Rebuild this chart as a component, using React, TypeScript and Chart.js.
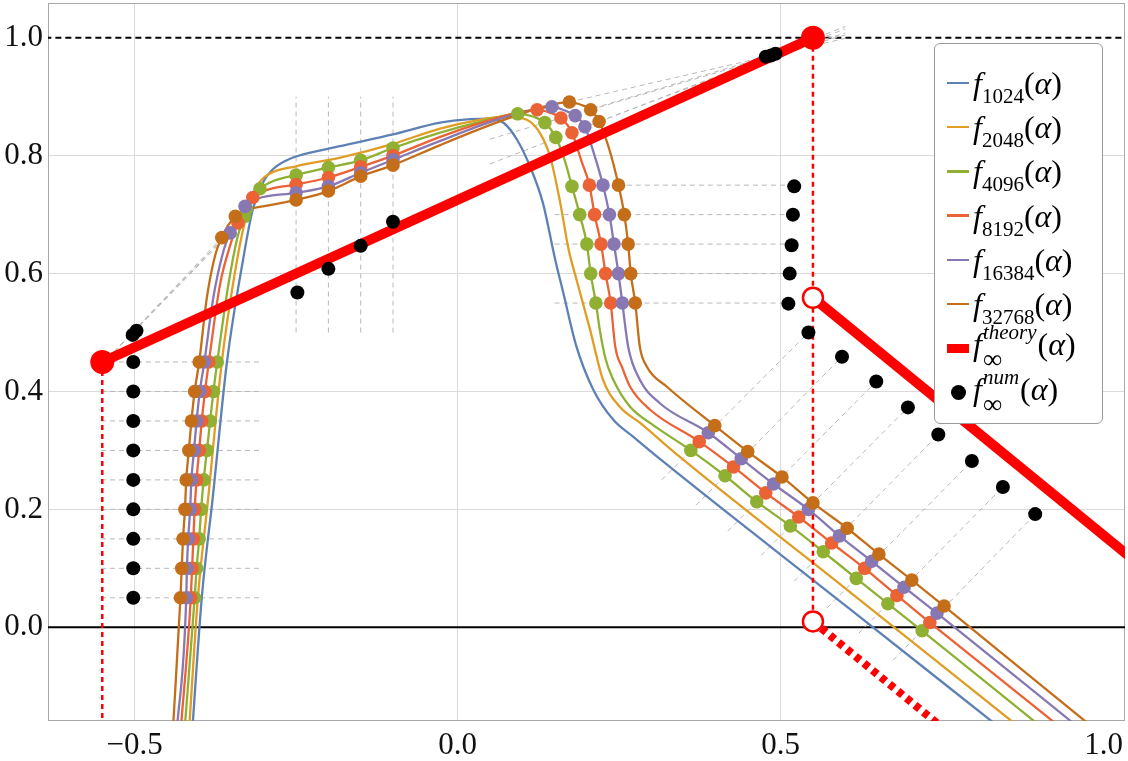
import React, { useEffect, useRef } from 'react';
import { Chart, registerables } from 'chart.js';

Chart.register(...registerables);

type P = [number, number];

// ---------- axes ----------
const xRange: P = [-0.634, 1.033];
const yRange: P = [-0.159, 1.059];
const xTicks = [-0.5, 0, 0.5, 1.0];
const yTicks = [0, 0.2, 0.4, 0.6, 0.8, 1.0];
const xGridValues = [-0.5, 0, 0.5];

// ---------- finite-size curves f_N(alpha) ----------
const curve1024: P[] = [
  [-0.411, -0.18], [-0.396, 0.05], [-0.379, 0.22], [-0.357, 0.45], [-0.332, 0.624], [-0.317, 0.709],
  [-0.3, 0.757], [-0.286, 0.777], [-0.265, 0.792], [-0.249, 0.799], [-0.182, 0.816], [-0.1, 0.836],
  [-0.027, 0.856], [0.02, 0.862], [0.05, 0.863], [0.072, 0.855], [0.092, 0.827], [0.112, 0.782],
  [0.132, 0.72], [0.151, 0.624], [0.163, 0.57], [0.184, 0.476], [0.21, 0.403], [0.241, 0.352],
  [0.272, 0.323], [0.316, 0.283], [0.6, 0.037], [0.84, -0.171],
];
const curve2048: P[] = [
  [-0.416, -0.18], [-0.402, 0.05], [-0.386, 0.22], [-0.365, 0.45], [-0.345, 0.6], [-0.33, 0.685],
  [-0.318, 0.73], [-0.305, 0.757], [-0.29, 0.77], [-0.25, 0.782], [-0.18, 0.797], [-0.1, 0.82],
  [-0.027, 0.846], [0.03, 0.86], [0.076, 0.866], [0.107, 0.861], [0.127, 0.839], [0.143, 0.799],
  [0.158, 0.725], [0.172, 0.64], [0.184, 0.59], [0.205, 0.505], [0.225, 0.42], [0.251, 0.374],
  [0.282, 0.347], [0.344, 0.289], [0.6, 0.066], [0.87, -0.17],
];
const curve4096: P[] = [
  [-0.423, -0.18], [-0.407, 0.05], [-0.404, 0.1], [-0.4, 0.15], [-0.397, 0.2], [-0.393, 0.25],
  [-0.388, 0.3], [-0.383, 0.35], [-0.378, 0.4], [-0.372, 0.45], [-0.355, 0.58], [-0.34, 0.665],
  [-0.33, 0.697], [-0.327, 0.71], [-0.318, 0.728], [-0.306, 0.744], [-0.285, 0.757], [-0.25, 0.767],
  [-0.2, 0.78], [-0.15, 0.792], [-0.1, 0.813], [-0.027, 0.839], [0.03, 0.856], [0.093, 0.871],
  [0.118, 0.866], [0.135, 0.856], [0.152, 0.831], [0.165, 0.795], [0.177, 0.748], [0.189, 0.7],
  [0.2, 0.65], [0.206, 0.6], [0.214, 0.55], [0.22, 0.505], [0.229, 0.455], [0.241, 0.42],
  [0.267, 0.374], [0.3, 0.345], [0.361, 0.3], [0.414, 0.257], [0.463, 0.213], [0.515, 0.172],
  [0.566, 0.128], [0.617, 0.083], [0.666, 0.04], [0.719, -0.006], [0.9, -0.166],
];
const curve8192: P[] = [
  [-0.429, -0.18], [-0.413, 0.05], [-0.411, 0.1], [-0.409, 0.15], [-0.407, 0.2], [-0.404, 0.25],
  [-0.4, 0.3], [-0.396, 0.35], [-0.391, 0.4], [-0.385, 0.45], [-0.368, 0.58], [-0.35, 0.655],
  [-0.34, 0.686], [-0.328, 0.712], [-0.317, 0.729], [-0.295, 0.742], [-0.25, 0.751], [-0.2, 0.763],
  [-0.15, 0.781], [-0.1, 0.8], [-0.027, 0.832], [0.04, 0.857], [0.09, 0.872], [0.123, 0.878],
  [0.145, 0.872], [0.16, 0.864], [0.177, 0.839], [0.192, 0.79], [0.204, 0.75], [0.212, 0.7],
  [0.222, 0.65], [0.229, 0.6], [0.237, 0.55], [0.244, 0.476], [0.255, 0.44], [0.267, 0.408],
  [0.298, 0.369], [0.374, 0.315], [0.427, 0.272], [0.477, 0.228], [0.528, 0.187], [0.579, 0.143],
  [0.63, 0.1], [0.68, 0.054], [0.731, 0.008], [0.93, -0.167],
];
const curve16384: P[] = [
  [-0.435, -0.18], [-0.42, 0.05], [-0.419, 0.1], [-0.417, 0.15], [-0.414, 0.2], [-0.412, 0.25],
  [-0.408, 0.3], [-0.404, 0.35], [-0.399, 0.4], [-0.392, 0.45], [-0.378, 0.56], [-0.362, 0.64],
  [-0.352, 0.669], [-0.34, 0.695], [-0.329, 0.714], [-0.31, 0.727], [-0.25, 0.737], [-0.2, 0.748],
  [-0.15, 0.771], [-0.1, 0.793], [-0.027, 0.825], [0.05, 0.857], [0.11, 0.876], [0.146, 0.883],
  [0.165, 0.877], [0.182, 0.868], [0.197, 0.849], [0.212, 0.8], [0.225, 0.75], [0.235, 0.7],
  [0.242, 0.65], [0.249, 0.6], [0.255, 0.55], [0.264, 0.476], [0.282, 0.42], [0.313, 0.38],
  [0.388, 0.33], [0.439, 0.286], [0.489, 0.243], [0.543, 0.2], [0.591, 0.155], [0.641, 0.112],
  [0.691, 0.068], [0.742, 0.024], [0.95, -0.16],
];
const curve32768: P[] = [
  [-0.441, -0.18], [-0.429, 0.05], [-0.427, 0.1], [-0.425, 0.15], [-0.422, 0.2], [-0.42, 0.25],
  [-0.416, 0.3], [-0.412, 0.35], [-0.407, 0.4], [-0.4, 0.45], [-0.388, 0.56], [-0.375, 0.632],
  [-0.365, 0.661], [-0.355, 0.682], [-0.344, 0.697], [-0.325, 0.708], [-0.29, 0.716], [-0.25, 0.725],
  [-0.2, 0.74], [-0.15, 0.765], [-0.1, 0.784], [-0.027, 0.818], [0.06, 0.856], [0.13, 0.882],
  [0.173, 0.891], [0.192, 0.886], [0.206, 0.878], [0.219, 0.858], [0.235, 0.81], [0.249, 0.75],
  [0.258, 0.7], [0.264, 0.65], [0.268, 0.6], [0.275, 0.55], [0.282, 0.476], [0.293, 0.442],
  [0.324, 0.408], [0.398, 0.342], [0.449, 0.298], [0.502, 0.255], [0.55, 0.211], [0.603, 0.168],
  [0.652, 0.124], [0.703, 0.08], [0.753, 0.036], [0.98, -0.167],
];

// ---------- sampled points on the curves ----------
const markers4096: P[] = [
  [-0.407, 0.05], [-0.404, 0.1], [-0.4, 0.15], [-0.397, 0.2], [-0.393, 0.25], [-0.388, 0.3], [-0.383, 0.35], [-0.378, 0.4], [-0.372, 0.45],
  [-0.33, 0.697], [-0.327, 0.71], [-0.306, 0.744],
  [-0.25, 0.767], [-0.2, 0.78], [-0.15, 0.792], [-0.1, 0.813],
  [0.093, 0.871], [0.135, 0.856], [0.152, 0.831],
  [0.177, 0.748], [0.189, 0.7], [0.2, 0.65], [0.206, 0.6], [0.214, 0.55],
  [0.361, 0.3], [0.414, 0.257], [0.463, 0.213], [0.515, 0.172], [0.566, 0.128], [0.617, 0.083], [0.666, 0.04], [0.719, -0.006],
];
const markers8192: P[] = [
  [-0.413, 0.05], [-0.411, 0.1], [-0.409, 0.15], [-0.407, 0.2], [-0.404, 0.25], [-0.4, 0.3], [-0.396, 0.35], [-0.391, 0.4], [-0.385, 0.45],
  [-0.34, 0.686], [-0.317, 0.729],
  [-0.25, 0.751], [-0.2, 0.763], [-0.15, 0.781], [-0.1, 0.8],
  [0.123, 0.878], [0.16, 0.864], [0.177, 0.839],
  [0.204, 0.75], [0.212, 0.7], [0.222, 0.65], [0.229, 0.6], [0.237, 0.55],
  [0.374, 0.315], [0.427, 0.272], [0.477, 0.228], [0.528, 0.187], [0.579, 0.143], [0.63, 0.1], [0.68, 0.054], [0.731, 0.008],
];
const markers16384: P[] = [
  [-0.42, 0.05], [-0.419, 0.1], [-0.417, 0.15], [-0.414, 0.2], [-0.412, 0.25], [-0.408, 0.3], [-0.404, 0.35], [-0.399, 0.4], [-0.392, 0.45],
  [-0.352, 0.669], [-0.329, 0.714],
  [-0.25, 0.737], [-0.2, 0.748], [-0.15, 0.771], [-0.1, 0.793],
  [0.146, 0.883], [0.182, 0.868], [0.197, 0.849],
  [0.225, 0.75], [0.235, 0.7], [0.242, 0.65], [0.249, 0.6], [0.255, 0.55],
  [0.388, 0.33], [0.439, 0.286], [0.489, 0.243], [0.543, 0.2], [0.591, 0.155], [0.641, 0.112], [0.691, 0.068], [0.742, 0.024],
];
const markers32768: P[] = [
  [-0.429, 0.05], [-0.427, 0.1], [-0.425, 0.15], [-0.422, 0.2], [-0.42, 0.25], [-0.416, 0.3], [-0.412, 0.35], [-0.407, 0.4], [-0.4, 0.45],
  [-0.365, 0.661], [-0.344, 0.697],
  [-0.25, 0.725], [-0.2, 0.74], [-0.15, 0.765], [-0.1, 0.784],
  [0.173, 0.891], [0.206, 0.878], [0.219, 0.858],
  [0.249, 0.75], [0.258, 0.7], [0.264, 0.65], [0.268, 0.6], [0.275, 0.55],
  [0.398, 0.342], [0.449, 0.298], [0.502, 0.255], [0.55, 0.211], [0.603, 0.168], [0.652, 0.124], [0.703, 0.08], [0.753, 0.036],
];

// ---------- extrapolated f_inf^num(alpha) ----------
const numericDots: P[] = [
  [-0.502, 0.45], [-0.502, 0.4], [-0.502, 0.35], [-0.502, 0.3], [-0.502, 0.25], [-0.502, 0.2], [-0.502, 0.15], [-0.502, 0.1], [-0.502, 0.05],
  [-0.503, 0.496], [-0.497, 0.503],
  [-0.248, 0.568], [-0.2, 0.608], [-0.15, 0.647], [-0.1, 0.688],
  [0.477, 0.968], [0.485, 0.97], [0.492, 0.973],
  [0.521, 0.748], [0.519, 0.7], [0.517, 0.648], [0.514, 0.6], [0.512, 0.549],
  [0.543, 0.5], [0.595, 0.459], [0.648, 0.417], [0.697, 0.373], [0.744, 0.327], [0.796, 0.282], [0.844, 0.238], [0.894, 0.192],
];

// ---------- theory f_inf^theory(alpha) ----------
const theoryUpper: P[] = [[-0.55, 0.45], [0.55, 1.0]];
const theoryLower: P[] = [[0.55, 0.559], [1.06, 0.102]];
const theoryBranch: P[] = [[0.55, 0.01], [0.77, -0.188]];
const theoryClosed: P[] = [[-0.55, 0.45], [0.55, 1.0]];
const theoryOpen: P[] = [[0.55, 0.559], [0.55, 0.01]];
const criticalLines: P[][] = [
  [[-0.55, 0.45], [-0.55, -0.2]],
  [[0.55, 1.0], [0.55, 0.01]],
];
const referenceOne: P[] = [[-0.7, 1.0], [1.1, 1.0]];
const referenceZero: P[] = [[-0.7, 0.0], [1.1, 0.0]];

// ---------- extrapolation guides ----------
const guideSegments: P[][] = [
  // left horizontal levels
  [[-0.552, 0.05], [-0.303, 0.05]], [[-0.552, 0.1], [-0.303, 0.1]], [[-0.552, 0.15], [-0.303, 0.15]],
  [[-0.552, 0.2], [-0.303, 0.2]], [[-0.552, 0.25], [-0.303, 0.25]], [[-0.552, 0.3], [-0.303, 0.3]],
  [[-0.552, 0.35], [-0.303, 0.35]], [[-0.552, 0.4], [-0.303, 0.4]], [[-0.552, 0.45], [-0.303, 0.45]],
  // plateau verticals
  [[-0.25, 0.5], [-0.25, 0.9]], [[-0.2, 0.5], [-0.2, 0.9]], [[-0.15, 0.5], [-0.15, 0.9]], [[-0.1, 0.5], [-0.1, 0.9]],
  // left bend towards corner
  [[-0.551, 0.445], [-0.365, 0.661]], [[-0.551, 0.445], [-0.352, 0.669]],
  [[-0.551, 0.445], [-0.34, 0.686]], [[-0.551, 0.445], [-0.33, 0.697]],
  // right horizontal levels
  [[0.262, 0.75], [0.521, 0.75]], [[0.15, 0.7], [0.519, 0.7]], [[0.15, 0.65], [0.517, 0.65]],
  [[0.275, 0.6], [0.514, 0.6]], [[0.15, 0.55], [0.512, 0.55]],
  // peak towards top point
  [[0.05, 0.828], [0.6, 1.008]], [[0.05, 0.786], [0.6, 1.019]], [[0.173, 0.891], [0.6, 0.999]],
  [[0.206, 0.878], [0.6, 1.005]], [[0.219, 0.858], [0.6, 1.015]],
  // tail diagonals
  [[0.316, 0.25], [0.543, 0.5]], [[0.369, 0.207], [0.595, 0.459]], [[0.418, 0.163], [0.648, 0.417]],
  [[0.47, 0.122], [0.697, 0.373]], [[0.521, 0.078], [0.744, 0.327]], [[0.572, 0.033], [0.796, 0.282]],
  [[0.621, -0.01], [0.844, 0.238]], [[0.674, -0.056], [0.894, 0.192]],
];

const series = [
  { key: '1024', color: '#5E81B5', curve: curve1024, markers: null as P[] | null },
  { key: '2048', color: '#E19C24', curve: curve2048, markers: null as P[] | null },
  { key: '4096', color: '#8FB032', curve: curve4096, markers: markers4096 },
  { key: '8192', color: '#EB6235', curve: curve8192, markers: markers8192 },
  { key: '16384', color: '#8778B3', curve: curve16384, markers: markers16384 },
  { key: '32768', color: '#C56E1A', curve: curve32768, markers: markers32768 },
];

const RED = '#ff0000';
const FONT = "'Liberation Serif', 'DejaVu Serif', serif";

const pts = (a: P[]) => a.map(([x, y]) => ({ x, y }));

function buildDatasets() {
  const ds: any[] = [];
  const line = (data: P[], color: string, width: number, order: number, dash: number[] = [], extra: any = {}) =>
    ds.push({
      data: pts(data), showLine: true, borderColor: color, borderWidth: width, borderDash: dash,
      pointRadius: 0, pointHoverRadius: 0, backgroundColor: color, order, ...extra,
    });
  const dots = (data: P[], color: string, r: number, order: number, extra: any = {}) =>
    ds.push({
      data: pts(data), showLine: false, pointRadius: r, pointHoverRadius: r, backgroundColor: color,
      borderWidth: 0, order, clip: 20, ...extra,
    });

  dots(theoryClosed, RED, 12, 0);
  dots(theoryOpen, '#ffffff', 10, 0, { borderColor: RED, borderWidth: 2.5 });
  dots(numericDots, '#000000', 7, 1);
  for (let i = series.length - 1; i >= 0; i--) {
    const s = series[i];
    if (s.markers) dots(s.markers, s.color, 6.8, 2 + (series.length - i) * 0.01);
  }
  line(theoryUpper, RED, 10, 3);
  line(theoryLower, RED, 10, 3);
  line(theoryBranch, RED, 8, 3, [6, 5]);
  criticalLines.forEach((c) => line(c, RED, 2.5, 3.5, [5, 4]));
  for (let i = series.length - 1; i >= 0; i--) {
    const s = series[i];
    line(s.curve, s.color, 2.3, 4 + (series.length - i) * 0.01, [], { cubicInterpolationMode: 'monotone' });
  }
  guideSegments.forEach((g) => line(g, '#b8b8b8', 1, 5, [5, 4]));
  line(referenceOne, '#000000', 2, 6, [6, 4]);
  line(referenceZero, '#000000', 2, 6);
  return ds;
}

const framePlugin = {
  id: 'frame',
  beforeDatasetsDraw(chart: any) {
    const { ctx, chartArea } = chart;
    ctx.save();
    ctx.strokeStyle = '#a8a8a8';
    ctx.lineWidth = 1;
    ctx.strokeRect(chartArea.left + 0.5, chartArea.top + 0.5, chartArea.right - chartArea.left - 1, chartArea.bottom - chartArea.top - 1);
    ctx.restore();
  },
};

const fmt = (v: number) => (v < 0 ? '\u2212' + Math.abs(v).toFixed(1) : Math.abs(v).toFixed(1));

function LegendRow({ index, sample, children }: { index: number; sample: React.ReactNode; children: React.ReactNode }) {
  return (
    <div style={{ position: 'absolute', left: 0, top: 39 + index * 44.2 - 22, height: 44, width: 168, display: 'flex', alignItems: 'center' }}>
      <div style={{ width: 38, position: 'relative', height: 44, flex: 'none' }}>{sample}</div>
      <div style={{ fontFamily: FONT, fontSize: 32, color: '#000', whiteSpace: 'nowrap', lineHeight: 1 }}>{children}</div>
    </div>
  );
}

const lineSample = (color: string, h: number) => (
  <div style={{ position: 'absolute', left: 12, width: 22, top: 22 - h / 2, height: h, background: color }} />
);

export default function App() {
  const ref = useRef<HTMLCanvasElement>(null);
  useEffect(() => {
    const chart = new Chart(ref.current as HTMLCanvasElement, {
      type: 'scatter',
      data: { datasets: buildDatasets() },
      plugins: [framePlugin],
      options: {
        animation: false,
        responsive: false,
        devicePixelRatio: 1,
        layout: { autoPadding: false, padding: { top: 3, right: 3, left: 0, bottom: 0 } },
        plugins: { legend: { display: false }, tooltip: { enabled: false } },
        events: [],
        scales: {
          x: {
            type: 'linear', min: xRange[0], max: xRange[1],
            afterFit: (s: any) => { s.height = 40; s.paddingLeft = 0; s.paddingRight = 0; },
            afterBuildTicks: (axis: any) => { axis.ticks = xTicks.map((value) => ({ value })); },
            grid: {
              drawTicks: false,
              color: (c: any) => (c.tick && xGridValues.some((g) => Math.abs(g - c.tick.value) < 1e-9) ? '#dadada' : 'rgba(0,0,0,0)'),
            },
            border: { display: false },
            ticks: { font: { family: FONT, size: 31 }, color: '#111', padding: 6, callback: (v: any) => fmt(Number(v)) },
          },
          y: {
            type: 'linear', min: yRange[0], max: yRange[1],
            afterFit: (s: any) => { s.width = 48; s.paddingTop = 0; s.paddingBottom = 0; },
            afterBuildTicks: (axis: any) => { axis.ticks = yTicks.map((value) => ({ value })); },
            grid: {
              drawTicks: false,
              color: (c: any) => (c.tick && (Math.abs(c.tick.value) < 1e-9 || Math.abs(c.tick.value - 1) < 1e-9) ? 'rgba(0,0,0,0)' : '#dadada'),
            },
            border: { display: false },
            ticks: { font: { family: FONT, size: 31 }, color: '#111', padding: 5, callback: (v: any) => fmt(Number(v)) },
          },
        },
      } as any,
    });
    return () => chart.destroy();
  }, []);

  const sub = (t: string) => <span style={{ fontSize: 21, position: 'relative', top: 9 }}>{t}</span>;
  const alpha = <span>(<i>α</i>)</span>;
  const stacked = (sup: string) => (
    <span style={{ display: 'inline-flex', flexDirection: 'column', verticalAlign: 'middle', lineHeight: 0.95, marginLeft: 1, marginRight: 1 }}>
      <span style={{ fontSize: 21, fontStyle: 'italic', position: 'relative', top: -2 }}>{sup}</span>
      <span style={{ fontSize: 27, position: 'relative', top: 2 }}>∞</span>
    </span>
  );

  return (
    <div style={{ position: 'absolute', left: 0, top: 0, width: 1128, height: 761, background: '#fff', overflow: 'hidden' }}>
      <canvas ref={ref} width={1128} height={761} style={{ display: 'block', width: 1128, height: 761 }} />
      <div style={{ position: 'absolute', left: 934, top: 43, width: 167, height: 379, border: '1px solid #9a9a9a', borderRadius: 6, background: '#fff' }}>
        {series.map((s, i) => (
          <LegendRow key={s.key} index={i} sample={lineSample(s.color, 2.5)}>
            <i>f</i>{sub(s.key)}{alpha}
          </LegendRow>
        ))}
        <LegendRow index={6} sample={lineSample(RED, 9)}>
          <i>f</i>{stacked('theory')}{alpha}
        </LegendRow>
        <LegendRow
          index={7}
          sample={<div style={{ position: 'absolute', left: 16, top: 15, width: 15, height: 15, borderRadius: '50%', background: '#000' }} />}
        >
          <i>f</i>{stacked('num')}{alpha}
        </LegendRow>
      </div>
    </div>
  );
}
